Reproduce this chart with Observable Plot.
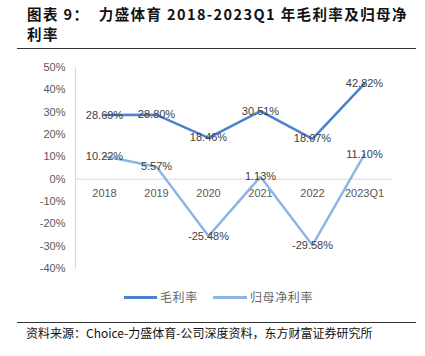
<!DOCTYPE html>
<html>
<head>
<meta charset="utf-8">
<script src="https://cdn.jsdelivr.net/npm/d3@7"></script>
<script src="https://cdn.jsdelivr.net/npm/@observablehq/plot@0.6"></script>
<style>
  html, body { margin: 0; padding: 0; background: #fff; }
  #page { position: relative; width: 425px; height: 356px; overflow: hidden; font-family: "Liberation Sans", "Noto Sans CJK SC", sans-serif; }
  .title { position: absolute; left: 27px; font-family: "Noto Sans CJK SC", sans-serif; font-weight: bold; font-size: 14.5px; line-height: 18px; height: 18px; color: #111; white-space: nowrap; letter-spacing: 1.4px; }
  .rule { position: absolute; left: 17px; width: 399px; height: 0; border-top: 1.5px solid #333; }
  #plot { position: absolute; left: 0; top: 55px; }
  .sw { position: absolute; height: 3px; top: 296px; }
  .lg { position: absolute; top: 289px; font-family: "Noto Sans CJK SC", sans-serif; font-size: 12px; line-height: 16px; color: #666; letter-spacing: 0.6px; }
  #caption { position: absolute; left: 26px; top: 325px; font-family: "Noto Sans CJK SC", sans-serif; font-size: 12px; line-height: 16px; color: #111; white-space: nowrap; }
</style>
</head>
<body>
<div id="page">
  <div class="title" style="top:5px">图表 9：&nbsp; 力盛体育 2018-2023Q1 年毛利率及归母净</div>
  <div class="title" style="top:25px">利率</div>
  <div class="rule" style="top:48px"></div>
  <div id="plot"></div>
  <div class="sw" style="left:124px;width:33px;background:#4a82cc"></div>
  <div class="lg" style="left:160px">毛利率</div>
  <div class="sw" style="left:213px;width:34px;background:#8fb5e6"></div>
  <div class="lg" style="left:250px">归母净利率</div>
  <div class="rule" style="top:322px"></div>
  <div id="caption">资料来源：Choice-力盛体育-公司深度资料，东方财富证券研究所</div>
</div>
<script>
const years = ["2018", "2019", "2020", "2021", "2022", "2023Q1"];
const grossMargin = [28.69, 28.80, 18.46, 30.51, 18.07, 42.82];
const netMargin = [10.22, 5.57, -25.48, 1.13, -29.58, 11.10];
const seriesNames = ["毛利率", "归母净利率"];
const seriesColors = ["#4a82cc", "#8fb5e6"];
const yTicks = [-40, -30, -20, -10, 0, 10, 20, 30, 40, 50];

const data = [];
years.forEach((y, i) => {
  data.push({year: y, value: grossMargin[i], series: seriesNames[0]});
  data.push({year: y, value: netMargin[i], series: seriesNames[1]});
});

const chart = Plot.plot({
  width: 425,
  height: 225,
  marginLeft: 75,
  marginRight: 33,
  marginTop: 12,
  marginBottom: 12,
  style: {fontFamily: "Liberation Sans, Arial, sans-serif", fontSize: "11px", background: "white"},
  x: {type: "point", domain: years, padding: 0.5, axis: null},
  y: {domain: [-40, 50]},
  color: {domain: seriesNames, range: seriesColors},
  marks: [
    Plot.frame({anchor: "left", stroke: "#d9d9d9"}),
    Plot.ruleY([0], {stroke: "#d9d9d9"}),
    Plot.axisY({ticks: yTicks, tickSize: 0, tickPadding: 10, tickFormat: d => d + "%", fill: "#595959", fontSize: 11, label: null}),
    Plot.text(years, {x: d => d, y: () => 0, dy: 14, fill: "#595959", fontSize: 11}),
    Plot.line(data, {x: "year", y: "value", stroke: "series", z: "series", strokeWidth: 2.5, strokeLinejoin: "miter"}),
    Plot.text(data, {x: "year", y: "value", text: d => d.value.toFixed(2) + "%", fill: "#404040", fontSize: 11})
  ]
});
document.getElementById("plot").appendChild(chart);
</script>
</body>
</html>
